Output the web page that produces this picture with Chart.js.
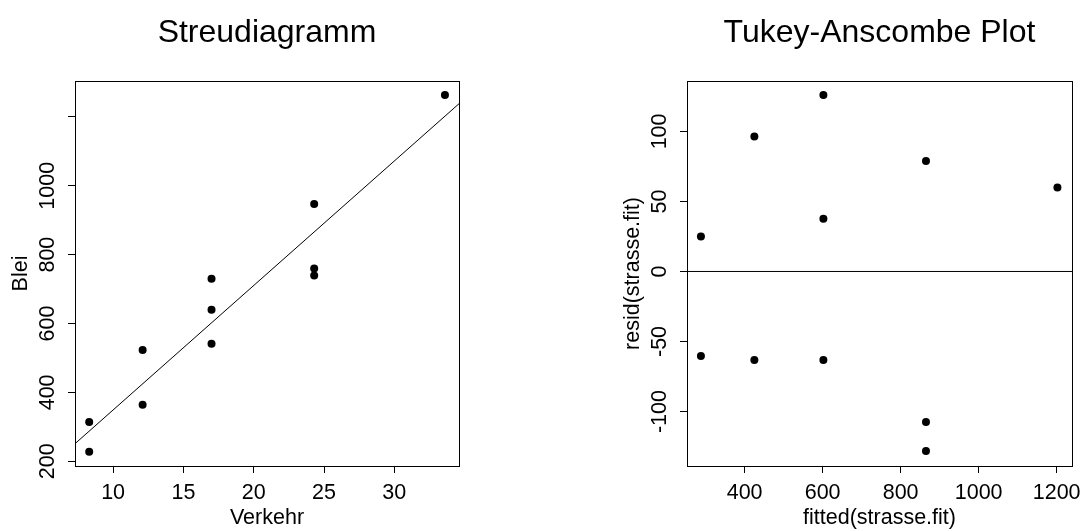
<!DOCTYPE html>
<html>
<head>
<meta charset="utf-8">
<script src="https://cdn.jsdelivr.net/npm/chart.js@4.4.0/dist/chart.umd.min.js"></script>
<style>
  body { margin: 0; background: #fff; }
  #wrap { position: relative; width: 1091px; height: 531px; }
  canvas { position: absolute; top: 0; }
</style>
</head>
<body>
<div id="wrap">
  <canvas id="left" width="545" height="531" style="left:0"></canvas>
  <canvas id="right" width="546" height="531" style="left:545px"></canvas>
</div>
<script>
// left panel: Streudiagramm
const verkehr = [8.3, 8.3, 12.1, 12.1, 17.0, 17.0, 17.0, 24.3, 24.3, 24.3, 33.6];
const blei = [314, 228, 523, 364, 730, 640, 541, 947, 760, 739, 1263];
const fitX = [7.29, 34.6];
const fitY = [251, 1238];
const xTicksLeft = [10, 15, 20, 25, 30];
const yTicksLeft = [200, 400, 600, 800, 1000, 1200];
const yLabelsLeft = ["200", "400", "600", "800", "1000", ""];

// right panel: Tukey-Anscombe
const fitted = [288, 288, 425, 425, 602, 602, 602, 865, 865, 865, 1202];
const resid = [25, -60.4, 96.4, -63.2, 126, 37.7, -63.2, 78.8, -107.4, -128.2, 59.9];
const zeroLine = [0, 0];
const xTicksRight = [400, 600, 800, 1000, 1200];
const yTicksRight = [-100, -50, 0, 50, 100];

const family = '"Liberation Sans", Arial, Helvetica, sans-serif';
const labelFont = { family: family, size: 21.5 };

// y tick labels are rotated and centred, so padding depends on widest label
function yPad(labels) {
  const c = document.createElement("canvas").getContext("2d");
  c.font = `${labelFont.size}px ${family}`;
  let w = 0;
  labels.forEach((l) => { w = Math.max(w, c.measureText(l).width); });
  return 19.5 - w / 2;
}

const boxPlugin = {
  id: "box",
  afterDraw(chart) {
    const { ctx, chartArea: a } = chart;
    ctx.save();
    ctx.strokeStyle = "#000";
    ctx.lineWidth = 1;
    ctx.strokeRect(a.left + 0.5, a.top + 0.5, a.right - a.left, a.bottom - a.top);
    ctx.restore();
  },
};

const tickGrid = {
  display: true,
  drawOnChartArea: false,
  drawTicks: true,
  tickLength: 7,
  color: "#000",
  lineWidth: 1,
};

function makeChart(el, o) {
  return new Chart(el, {
    type: "scatter",
    data: {
      datasets: [
        {
          data: o.px.map((v, i) => ({ x: v, y: o.py[i] })),
          pointRadius: 4,
          pointHoverRadius: 4,
          pointBackgroundColor: "#000",
          pointBorderWidth: 0,
        },
        {
          data: o.lx.map((v, i) => ({ x: v, y: o.ly[i] })),
          showLine: true,
          pointRadius: 0,
          borderColor: "#000",
          borderWidth: 1,
        },
      ],
    },
    options: {
      responsive: false,
      animation: false,
      events: [],
      layout: { padding: { left: 0, right: o.padRight, top: 0, bottom: 0 } },
      plugins: {
        legend: { display: false },
        tooltip: { enabled: false },
        title: {
          display: true,
          text: o.title,
          color: "#000",
          fullSize: false,
          font: { family: family, size: 32, weight: "normal", lineHeight: 1.2 },
          padding: { top: 14, bottom: 28.6 },
        },
      },
      scales: {
        x: {
          type: "linear",
          position: "bottom",
          min: o.xmin,
          max: o.xmax,
          bounds: "data",
          afterBuildTicks: (s) => { s.ticks = o.xt.map((v) => ({ value: v })); },
          afterFit: (s) => { s.height = 65; },
          grid: tickGrid,
          border: { display: false },
          ticks: {
            autoSkip: false, minRotation: 0, maxRotation: 0, padding: 7,
            color: "#000", font: labelFont,
            callback: (v) => String(v),
          },
          title: { display: true, text: o.xlab, color: "#000", font: labelFont, padding: { top: 0, bottom: 0 } },
        },
        y: {
          type: "linear",
          position: "left",
          min: o.ymin,
          max: o.ymax,
          bounds: "data",
          afterBuildTicks: (s) => { s.ticks = o.yt.map((v) => ({ value: v })); },
          afterFit: (s) => { s.width = o.yw; },
          grid: tickGrid,
          border: { display: false },
          ticks: {
            autoSkip: false,
            minRotation: 90,
            maxRotation: 90,
            crossAlign: "center",
            padding: yPad(o.yl),
            color: "#000",
            font: labelFont,
            callback: (v, i) => o.yl[i],
          },
          title: { display: true, text: o.ylab, color: "#000", font: labelFont, padding: { top: o.yw - 54 - 12.9, bottom: 0 } },
        },
      },
    },
    plugins: [boxPlugin],
  });
}

makeChart(document.getElementById("left"), {
  title: "Streudiagramm",
  px: verkehr, py: blei,
  lx: fitX, ly: fitY,
  xmin: 7.29, xmax: 34.6, ymin: 186.3, ymax: 1304,
  xt: xTicksLeft, yt: yTicksLeft, yl: yLabelsLeft,
  xlab: "Verkehr", ylab: "Blei",
  yw: 75, padRight: 86,
});

makeChart(document.getElementById("right"), {
  title: "Tukey-Anscombe Plot",
  px: fitted, py: resid,
  lx: [252.3, 1239.4], ly: zeroLine,
  xmin: 252.3, xmax: 1239.4, ymin: -138.9, ymax: 136,
  xt: xTicksRight, yt: yTicksRight, yl: yTicksRight.map(String),
  xlab: "fitted(strasse.fit)", ylab: "resid(strasse.fit)",
  yw: 142, padRight: 19,
});
</script>
</body>
</html>
